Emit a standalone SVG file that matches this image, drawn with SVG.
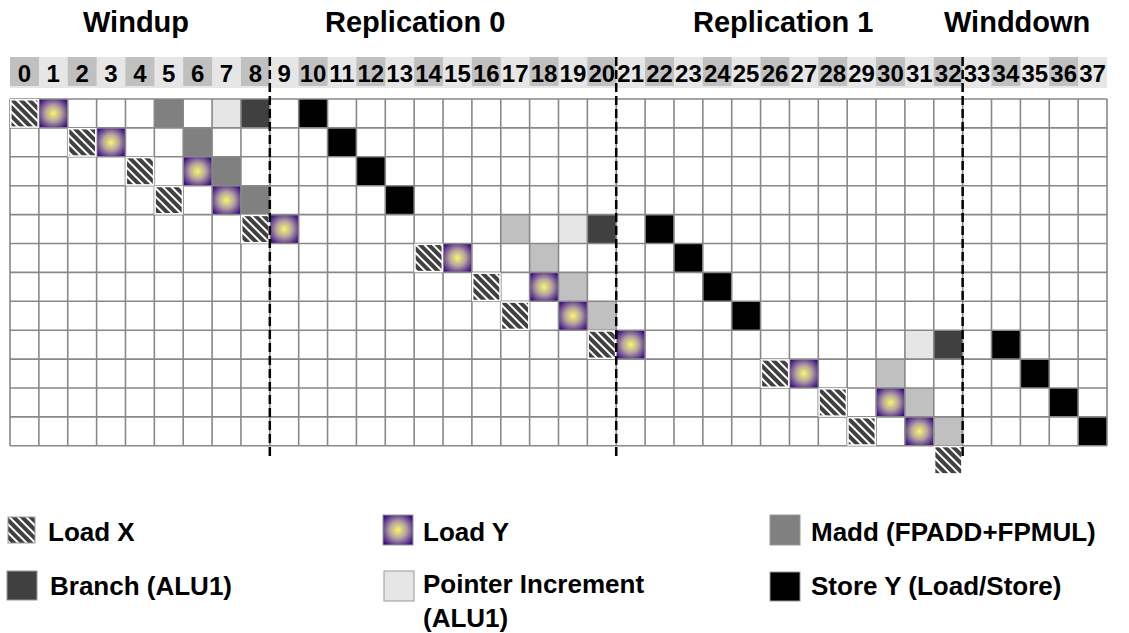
<svg xmlns="http://www.w3.org/2000/svg" width="1129" height="633" viewBox="0 0 1129 633">
<style>
text{font-family:"Liberation Sans",Arial,sans-serif;font-weight:bold;fill:#000}
.title{font-size:29px}
.num{font-size:24px;text-anchor:middle}
.leg{font-size:26px}
.H{fill:url(#hatch);stroke:#fff;stroke-width:1.5}
.Y{fill:url(#ldy)}
.M{fill:#808080}
.C{fill:#c0c0c0}
.P{fill:#e6e6e6}
.B{fill:#404040}
.S{fill:#000}
.hd{fill:#c0c0c0}
.grid{fill:none;stroke:#888;stroke-width:1.6}
.sep{stroke:#000;stroke-width:2.5;stroke-dasharray:9 4;fill:none}
.sw{stroke:#999;stroke-width:1}
</style>
<defs>
<pattern id="hatch" patternUnits="userSpaceOnUse" width="6" height="6" patternTransform="rotate(-45)">
<rect width="6" height="6" fill="#404040"/>
<rect x="0" width="2" height="6" fill="#fff"/>
</pattern>
<radialGradient id="ldy" cx="0.5" cy="0.5" r="0.62">
<stop offset="0" stop-color="#fdf56a"/>
<stop offset="0.45" stop-color="#b4a4a0"/>
<stop offset="1" stop-color="#3c0c88"/>
</radialGradient>
</defs>
<rect width="1129" height="633" fill="#fff"/>

<g id="titles">
<text class="title" x="83" y="32">Windup</text>
<text class="title" x="325" y="32">Replication 0</text>
<text class="title" x="693" y="32">Replication 1</text>
<text class="title" x="944" y="32">Winddown</text>
</g>

<g id="header">
<rect x="10" y="57" width="1097" height="31" fill="#e6e6e6"/>
<rect class="hd" x="10" y="57" width="28.87" height="29"/>
<rect class="hd" x="67.74" y="57" width="28.87" height="29"/>
<rect class="hd" x="125.47" y="57" width="28.87" height="29"/>
<rect class="hd" x="183.21" y="57" width="28.87" height="29"/>
<rect class="hd" x="240.94" y="57" width="28.87" height="29"/>
<rect class="hd" x="298.68" y="57" width="28.87" height="29"/>
<rect class="hd" x="356.42" y="57" width="28.87" height="29"/>
<rect class="hd" x="414.15" y="57" width="28.87" height="29"/>
<rect class="hd" x="471.89" y="57" width="28.87" height="29"/>
<rect class="hd" x="529.62" y="57" width="28.87" height="29"/>
<rect class="hd" x="587.36" y="57" width="28.87" height="29"/>
<rect class="hd" x="645.1" y="57" width="28.87" height="29"/>
<rect class="hd" x="702.83" y="57" width="28.87" height="29"/>
<rect class="hd" x="760.57" y="57" width="28.87" height="29"/>
<rect class="hd" x="818.3" y="57" width="28.87" height="29"/>
<rect class="hd" x="876.04" y="57" width="28.87" height="29"/>
<rect class="hd" x="933.78" y="57" width="28.87" height="29"/>
<rect class="hd" x="991.51" y="57" width="28.87" height="29"/>
<rect class="hd" x="1049.25" y="57" width="28.87" height="29"/>
<text class="num" x="24.43" y="82">0</text>
<text class="num" x="53.3" y="82">1</text>
<text class="num" x="82.17" y="82">2</text>
<text class="num" x="111.03" y="82">3</text>
<text class="num" x="139.9" y="82">4</text>
<text class="num" x="168.77" y="82">5</text>
<text class="num" x="197.64" y="82">6</text>
<text class="num" x="226.51" y="82">7</text>
<text class="num" x="255.37" y="82">8</text>
<text class="num" x="284.24" y="82">9</text>
<text class="num" x="313.11" y="82">10</text>
<text class="num" x="341.98" y="82">11</text>
<text class="num" x="370.85" y="82">12</text>
<text class="num" x="399.71" y="82">13</text>
<text class="num" x="428.58" y="82">14</text>
<text class="num" x="457.45" y="82">15</text>
<text class="num" x="486.32" y="82">16</text>
<text class="num" x="515.19" y="82">17</text>
<text class="num" x="544.05" y="82">18</text>
<text class="num" x="572.92" y="82">19</text>
<text class="num" x="601.79" y="82">20</text>
<text class="num" x="630.66" y="82">21</text>
<text class="num" x="659.53" y="82">22</text>
<text class="num" x="688.39" y="82">23</text>
<text class="num" x="717.26" y="82">24</text>
<text class="num" x="746.13" y="82">25</text>
<text class="num" x="775" y="82">26</text>
<text class="num" x="803.87" y="82">27</text>
<text class="num" x="832.73" y="82">28</text>
<text class="num" x="861.6" y="82">29</text>
<text class="num" x="890.47" y="82">30</text>
<text class="num" x="919.34" y="82">31</text>
<text class="num" x="948.21" y="82">32</text>
<text class="num" x="977.07" y="82">33</text>
<text class="num" x="1005.94" y="82">34</text>
<text class="num" x="1034.81" y="82">35</text>
<text class="num" x="1063.68" y="82">36</text>
<text class="num" x="1092.55" y="82">37</text>
</g>

<g id="cells">
<g id="row0">
<rect class="Y" x="38.87" y="99" width="28.87" height="28.9"/>
<rect class="M" x="154.34" y="99" width="28.87" height="28.9"/>
<rect class="P" x="212.08" y="99" width="28.87" height="28.9"/>
<rect class="B" x="240.94" y="99" width="28.87" height="28.9"/>
<rect class="S" x="298.68" y="99" width="28.87" height="28.9"/>
</g>
<g id="row1">
<rect class="Y" x="96.6" y="127.9" width="28.87" height="28.9"/>
<rect class="M" x="183.21" y="127.9" width="28.87" height="28.9"/>
<rect class="S" x="327.55" y="127.9" width="28.87" height="28.9"/>
</g>
<g id="row2">
<rect class="Y" x="183.21" y="156.8" width="28.87" height="28.9"/>
<rect class="M" x="212.08" y="156.8" width="28.87" height="28.9"/>
<rect class="S" x="356.42" y="156.8" width="28.87" height="28.9"/>
</g>
<g id="row3">
<rect class="Y" x="212.08" y="185.7" width="28.87" height="28.9"/>
<rect class="M" x="240.94" y="185.7" width="28.87" height="28.9"/>
<rect class="S" x="385.28" y="185.7" width="28.87" height="28.9"/>
</g>
<g id="row4">
<rect class="Y" x="269.81" y="214.6" width="28.87" height="28.9"/>
<rect class="C" x="500.76" y="214.6" width="28.87" height="28.9"/>
<rect class="P" x="558.49" y="214.6" width="28.87" height="28.9"/>
<rect class="B" x="587.36" y="214.6" width="28.87" height="28.9"/>
<rect class="S" x="645.1" y="214.6" width="28.87" height="28.9"/>
</g>
<g id="row5">
<rect class="Y" x="443.02" y="243.5" width="28.87" height="28.9"/>
<rect class="C" x="529.62" y="243.5" width="28.87" height="28.9"/>
<rect class="S" x="673.96" y="243.5" width="28.87" height="28.9"/>
</g>
<g id="row6">
<rect class="Y" x="529.62" y="272.4" width="28.87" height="28.9"/>
<rect class="C" x="558.49" y="272.4" width="28.87" height="28.9"/>
<rect class="S" x="702.83" y="272.4" width="28.87" height="28.9"/>
</g>
<g id="row7">
<rect class="Y" x="558.49" y="301.3" width="28.87" height="28.9"/>
<rect class="C" x="587.36" y="301.3" width="28.87" height="28.9"/>
<rect class="S" x="731.7" y="301.3" width="28.87" height="28.9"/>
</g>
<g id="row8">
<rect class="Y" x="616.23" y="330.2" width="28.87" height="28.9"/>
<rect class="P" x="904.91" y="330.2" width="28.87" height="28.9"/>
<rect class="B" x="933.78" y="330.2" width="28.87" height="28.9"/>
<rect class="S" x="991.51" y="330.2" width="28.87" height="28.9"/>
</g>
<g id="row9">
<rect class="Y" x="789.44" y="359.1" width="28.87" height="28.9"/>
<rect class="C" x="876.04" y="359.1" width="28.87" height="28.9"/>
<rect class="S" x="1020.38" y="359.1" width="28.87" height="28.9"/>
</g>
<g id="row10">
<rect class="Y" x="876.04" y="388" width="28.87" height="28.9"/>
<rect class="C" x="904.91" y="388" width="28.87" height="28.9"/>
<rect class="S" x="1049.25" y="388" width="28.87" height="28.9"/>
</g>
<g id="row11">
<rect class="Y" x="904.91" y="416.9" width="28.87" height="28.9"/>
<rect class="C" x="933.78" y="416.9" width="28.87" height="28.9"/>
<rect class="S" x="1078.12" y="416.9" width="28.87" height="28.9"/>
</g>
</g>

<g id="grid">
<path class="grid" d="M10 99H1107M10 127.9H1107M10 156.8H1107M10 185.7H1107M10 214.6H1107M10 243.5H1107M10 272.4H1107M10 301.3H1107M10 330.2H1107M10 359.1H1107M10 388H1107M10 416.9H1107M10 445.8H1107
M10 99V445.8M38.87 99V445.8M67.74 99V445.8M96.6 99V445.8M125.47 99V445.8M154.34 99V445.8M183.21 99V445.8M212.08 99V445.8M240.94 99V445.8M269.81 99V445.8M298.68 99V445.8M327.55 99V445.8M356.42 99V445.8M385.28 99V445.8M414.15 99V445.8M443.02 99V445.8M471.89 99V445.8M500.76 99V445.8M529.62 99V445.8M558.49 99V445.8M587.36 99V445.8M616.23 99V445.8M645.1 99V445.8M673.96 99V445.8M702.83 99V445.8M731.7 99V445.8M760.57 99V445.8M789.44 99V445.8M818.3 99V445.8M847.17 99V445.8M876.04 99V445.8M904.91 99V445.8M933.78 99V445.8M962.64 99V445.8M991.51 99V445.8M1020.38 99V445.8M1049.25 99V445.8M1078.12 99V445.8M1107 99V445.8"/>
</g>

<g id="loadx-cells">
<rect class="H" x="10.8" y="99.8" width="27.3" height="27.3"/>
<rect class="H" x="68.5" y="128.7" width="27.3" height="27.3"/>
<rect class="H" x="126.3" y="157.6" width="27.3" height="27.3"/>
<rect class="H" x="155.1" y="186.5" width="27.3" height="27.3"/>
<rect class="H" x="241.7" y="215.4" width="27.3" height="27.3"/>
<rect class="H" x="415" y="244.3" width="27.3" height="27.3"/>
<rect class="H" x="472.7" y="273.2" width="27.3" height="27.3"/>
<rect class="H" x="501.5" y="302.1" width="27.3" height="27.3"/>
<rect class="H" x="588.2" y="331" width="27.3" height="27.3"/>
<rect class="H" x="761.4" y="359.9" width="27.3" height="27.3"/>
<rect class="H" x="819.1" y="388.8" width="27.3" height="27.3"/>
<rect class="H" x="848" y="417.7" width="27.3" height="27.3"/>
<rect class="H" x="934.6" y="446.6" width="27.3" height="27.3"/>
</g>

<g id="separators">
<line class="sep" x1="269.81" y1="57" x2="269.81" y2="460"/>
<line class="sep" x1="616.23" y1="57" x2="616.23" y2="460"/>
<line class="sep" x1="962.64" y1="57" x2="962.64" y2="460"/>
</g>

<g id="legend">
<g id="leg-loadx"><rect class="sw" x="8" y="517" width="27" height="26" fill="url(#hatch)"/><text class="leg" x="48" y="541">Load X</text></g>
<g id="leg-loady"><rect class="sw" x="383" y="515" width="30" height="30" fill="url(#ldy)"/><text class="leg" x="423" y="541">Load Y</text></g>
<g id="leg-madd"><rect class="sw" x="770" y="515" width="30" height="30" fill="#808080"/><text class="leg" x="811" y="541">Madd (FPADD+FPMUL)</text></g>
<g id="leg-branch"><rect class="sw" x="7" y="571" width="30" height="29" fill="#404040"/><text class="leg" x="50" y="595">Branch (ALU1)</text></g>
<g id="leg-pointer"><rect class="sw" x="384" y="571" width="30" height="30" fill="#e6e6e6"/><text class="leg" x="423" y="593">Pointer Increment</text><text class="leg" x="423" y="627">(ALU1)</text></g>
<g id="leg-store"><rect class="sw" x="770" y="572" width="30" height="29" fill="#000"/><text class="leg" x="811" y="595">Store Y (Load/Store)</text></g>
</g>
</svg>
